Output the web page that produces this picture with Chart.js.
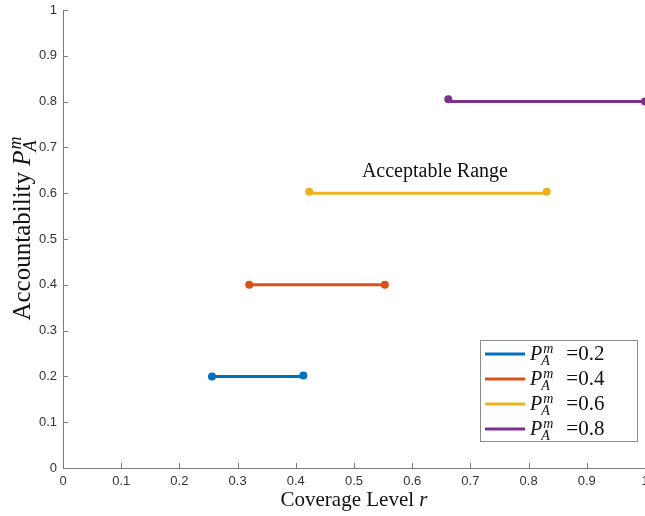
<!DOCTYPE html>
<html>
<head>
<meta charset="utf-8">
<script src="https://cdn.jsdelivr.net/npm/chart.js@4.4.1/dist/chart.umd.min.js"></script>
<style>
  html, body { margin: 0; padding: 0; background: #fff; }
  #wrap { width: 645px; height: 516px; }
</style>
</head>
<body>
<div id="wrap"><canvas id="rangeChart" width="645" height="516"></canvas></div>
<script>
// ---------------------------------------------------------------------------
// Accountability vs coverage level: acceptable r range per P_A^m level
// ---------------------------------------------------------------------------

const levels = [0.2, 0.4, 0.6, 0.8];
const rangeStart = [0.256, 0.32, 0.423, 0.662];
const rangeEnd = [0.413, 0.553, 0.831, 1.0];
// marker y values (the dots sit very slightly off the line in the original)
const markerStartY = [0.2, 0.4, 0.603, 0.805];
const markerEndY = [0.202, 0.4, 0.603, 0.8];
const seriesColors = ['#0072BD', '#D95319', '#EDB120', '#7E2F8E'];

const xTicks = [0, 0.1, 0.2, 0.3, 0.4, 0.5, 0.6, 0.7, 0.8, 0.9, 1];
const yTicks = [0, 0.1, 0.2, 0.3, 0.4, 0.5, 0.6, 0.7, 0.8, 0.9, 1];
const xTickLabels = ['0', '0.1', '0.2', '0.3', '0.4', '0.5', '0.6', '0.7', '0.8', '0.9', '1'];
const yTickLabels = ['0', '0.1', '0.2', '0.3', '0.4', '0.5', '0.6', '0.7', '0.8', '0.9', '1'];

const annotText = 'Acceptable Range';
const annotPos = { x: 0.639, y: 0.646 };

const SERIF = '"Liberation Serif", "Times New Roman", serif';
const SANS = '"Liberation Sans", Arial, sans-serif';
const AXIS_COLOR = '#7a7a7a';

// --- datasets ---
const datasets = [];
levels.forEach((lv, i) => {
  datasets.push({
    label: 'P_A^m =' + lv,
    data: [{ x: rangeStart[i], y: lv }, { x: rangeEnd[i], y: lv }],
    showLine: true,
    borderColor: seriesColors[i],
    backgroundColor: seriesColors[i],
    borderWidth: 3,
    pointRadius: 0,
    clip: false
  });
});
levels.forEach((lv, i) => {
  datasets.push({
    label: 'marker ' + lv,
    data: [{ x: rangeStart[i], y: markerStartY[i] }, { x: rangeEnd[i], y: markerEndY[i] }],
    showLine: false,
    borderColor: seriesColors[i],
    backgroundColor: seriesColors[i],
    pointRadius: 4,
    pointBorderWidth: 0,
    clip: false
  });
});

// P with sub A and sup m, returns width
function drawPAm(ctx, x, y, size) {
  ctx.font = `italic ${size}px ${SERIF}`;
  ctx.fillText('P', x, y);
  const w = ctx.measureText('P').width;
  const small = Math.round(size * 0.7);
  ctx.font = `italic ${small}px ${SERIF}`;
  const mw = ctx.measureText('m').width;
  const aw = ctx.measureText('A').width;
  ctx.fillText('m', x + w + 1, y - size * 0.36);
  ctx.fillText('A', x + w - 1, y + size * 0.24);
  return w + Math.max(mw + 1, aw - 1) + 1;
}

function measurePAm(ctx, size) {
  ctx.font = `italic ${size}px ${SERIF}`;
  const w = ctx.measureText('P').width;
  const small = Math.round(size * 0.7);
  ctx.font = `italic ${small}px ${SERIF}`;
  return w + Math.max(ctx.measureText('m').width + 1, ctx.measureText('A').width - 1) + 1;
}

const matlabPlugin = {
  id: 'matlabDecor',
  afterDraw(chart) {
    const ctx = chart.ctx;
    const xs = chart.scales.x;
    const ys = chart.scales.y;
    const area = chart.chartArea;

    ctx.save();
    // inward ticks
    ctx.strokeStyle = AXIS_COLOR;
    ctx.lineWidth = 1;
    ctx.beginPath();
    xTicks.forEach(v => {
      const px = Math.round(xs.getPixelForValue(v)) + 0.5;
      ctx.moveTo(px, area.bottom);
      ctx.lineTo(px, area.bottom - 5);
    });
    yTicks.forEach(v => {
      const py = Math.round(ys.getPixelForValue(v)) + 0.5;
      ctx.moveTo(area.left, py);
      ctx.lineTo(area.left + 5, py);
    });
    ctx.stroke();

    ctx.fillStyle = '#111';
    ctx.textBaseline = 'alphabetic';

    // annotation text
    ctx.font = `20px ${SERIF}`;
    ctx.textAlign = 'center';
    ctx.fillText(annotText, xs.getPixelForValue(annotPos.x), ys.getPixelForValue(annotPos.y) + 5);

    // x axis title
    ctx.textAlign = 'left';
    const xf = 21;
    ctx.font = `${xf}px ${SERIF}`;
    const t1 = 'Coverage Level ';
    const w1 = ctx.measureText(t1).width;
    ctx.font = `italic ${xf}px ${SERIF}`;
    const w2 = ctx.measureText('r').width;
    const cx = (area.left + area.right) / 2;
    const sx = cx - (w1 + w2) / 2;
    ctx.font = `${xf}px ${SERIF}`;
    ctx.fillText(t1, sx, 506);
    ctx.font = `italic ${xf}px ${SERIF}`;
    ctx.fillText('r', sx + w1, 506);

    // y axis title (rotated)
    ctx.save();
    const yf = 25;
    ctx.font = `${yf}px ${SERIF}`;
    const ty = 'Accountability ';
    const wy = ctx.measureText(ty).width;
    const wp = measurePAm(ctx, yf);
    ctx.translate(30, 228);
    ctx.rotate(-Math.PI / 2);
    const sy = -(wy + wp) / 2;
    ctx.font = `${yf}px ${SERIF}`;
    ctx.fillText(ty, sy, 0);
    drawPAm(ctx, sy + wy, 0, yf);
    ctx.restore();

    // legend box
    const lx = 480, ly = 340, lw = 157, lh = 101;
    ctx.fillStyle = '#fff';
    ctx.fillRect(lx, ly, lw, lh);
    ctx.strokeStyle = '#8c8c8c';
    ctx.lineWidth = 1;
    ctx.strokeRect(lx + 0.5, ly + 0.5, lw, lh);
    levels.forEach((lv, i) => {
      const rowY = ly + 14 + i * 25;
      ctx.strokeStyle = seriesColors[i];
      ctx.lineWidth = 3;
      ctx.beginPath();
      ctx.moveTo(lx + 5, rowY);
      ctx.lineTo(lx + 45, rowY);
      ctx.stroke();
      ctx.fillStyle = '#111';
      const w = drawPAm(ctx, lx + 50, rowY + 6, 20);
      ctx.font = `21px ${SERIF}`;
      ctx.fillText('=' + lv, lx + 50 + w + 12, rowY + 6);
    });
    ctx.restore();
  }
};

new Chart(document.getElementById('rangeChart'), {
  type: 'scatter',
  data: { datasets },
  options: {
    responsive: false,
    animation: false,
    devicePixelRatio: 1,
    layout: { autoPadding: false, padding: { top: 10, right: 0, left: 0, bottom: 0 } },
    plugins: {
      legend: { display: false },
      tooltip: { enabled: false }
    },
    scales: {
      x: {
        type: 'linear',
        min: 0,
        max: 1,
        afterBuildTicks: s => { s.ticks = xTicks.map(v => ({ value: v })); },
        afterFit: s => { s.height = 48; s.paddingLeft = 0; s.paddingRight = 0; },
        ticks: {
          callback: (v, i) => xTickLabels[i],
          font: { family: SANS, size: 13 },
          color: '#333',
          padding: 6,
          maxRotation: 0,
          autoSkip: false
        },
        grid: { drawOnChartArea: false, drawTicks: false },
        border: { display: true, color: AXIS_COLOR, width: 1 }
      },
      y: {
        type: 'linear',
        min: 0,
        max: 1,
        afterBuildTicks: s => { s.ticks = yTicks.map(v => ({ value: v })); },
        afterFit: s => { s.width = 63; s.paddingTop = 0; s.paddingBottom = 0; },
        ticks: {
          callback: (v, i) => yTickLabels[i],
          font: { family: SANS, size: 13 },
          color: '#333',
          padding: 6,
          autoSkip: false
        },
        grid: { drawOnChartArea: false, drawTicks: false },
        border: { display: true, color: AXIS_COLOR, width: 1 }
      }
    }
  },
  plugins: [matlabPlugin]
});
</script>
</body>
</html>
